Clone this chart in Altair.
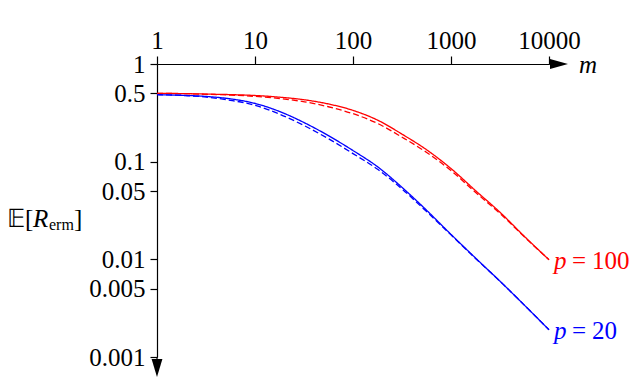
import altair as alt
import pandas as pd

m_vals = [1, 1.8, 3.2, 5.6, 10, 18, 32, 56, 100, 180, 320, 560, 1000, 1800, 3200, 5600, 10000]
red_solid = [0.50, 0.498, 0.492, 0.486, 0.476, 0.457, 0.43, 0.39, 0.335, 0.265, 0.19, 0.133,
             0.085, 0.05, 0.03, 0.0172, 0.0099]
red_dashed = [0.50, 0.497, 0.49, 0.481, 0.466, 0.443, 0.41, 0.365, 0.31, 0.245, 0.177, 0.125,
              0.081, 0.048, 0.0292, 0.017, 0.0099]
blue_solid = [0.485, 0.478, 0.465, 0.44, 0.395, 0.325, 0.25, 0.185, 0.13, 0.088, 0.054, 0.032,
              0.018, 0.0102, 0.0059, 0.0034, 0.0019]
blue_dashed = [0.485, 0.476, 0.458, 0.425, 0.378, 0.305, 0.233, 0.172, 0.121, 0.083, 0.052, 0.031,
               0.0178, 0.0101, 0.0059, 0.0034, 0.0019]

x_ticks = [1, 10, 100, 1000, 10000]
y_ticks = [1, 0.5, 0.1, 0.05, 0.01, 0.005, 0.001]
series_names = ["p100", "p20"]
series_numbers = ["100", "20"]
series_colors = ["#ff0000", "#0000ff"]

rows = []
for name, kind, vals in [("p100", "solid", red_solid), ("p100", "dashed", red_dashed),
                         ("p20", "solid", blue_solid), ("p20", "dashed", blue_dashed)]:
    for m, r in zip(m_vals, vals):
        rows.append({"m": m, "R": r, "series": name, "kind": kind, "line": name + kind})
df = pd.DataFrame(rows)

lab = pd.DataFrame({
    "m": [m_vals[-1], m_vals[-1]],
    "R": [red_solid[-1], blue_solid[-1]],
    "series": series_names,
    "num": series_numbers,
})

FONT = "Liberation Serif"
FS = 25

xs = alt.Scale(type="log", domain=[1, 10000])
ys = alt.Scale(type="log", domain=[0.001, 1])
col = alt.Scale(domain=series_names, range=series_colors)

lines = alt.Chart(df).mark_line(strokeWidth=1.3, interpolate="monotone").encode(
    x=alt.X("m:Q", scale=xs, axis=alt.Axis(
        orient="top", values=x_ticks, format="d", title=None, grid=False,
        domainColor="black", domainWidth=1.2, tickColor="black", tickWidth=1.2,
        tickSize=8, labelPadding=3, labelFont=FONT, labelFontSize=FS,
        labelColor="black", labelFlush=False)),
    y=alt.Y("R:Q", scale=ys, axis=alt.Axis(
        orient="left", values=y_ticks, format="~g", title=None, grid=False,
        domainColor="black", domainWidth=1.2, tickColor="black", tickWidth=1.2,
        tickSize=7, labelPadding=5, labelFont=FONT, labelFontSize=FS,
        labelColor="black", labelFlush=False)),
    color=alt.Color("series:N", scale=col, legend=None),
    strokeDash=alt.StrokeDash("kind:N", scale=alt.Scale(domain=["solid", "dashed"],
                                                         range=[[1, 0], [6, 3]]), legend=None),
    detail="line:N",
)

def end_text(dx, text, italic=False):
    kw = dict(align="left", baseline="middle", dx=dx, dy=1, font=FONT, fontSize=FS)
    if italic:
        kw["fontStyle"] = "italic"
    return alt.Chart(lab).mark_text(**kw).encode(
        x=alt.X("m:Q", scale=xs), y=alt.Y("R:Q", scale=ys),
        color=alt.Color("series:N", scale=col, legend=None), text=text)

p_text = end_text(5, alt.value("p"), italic=True)
eq_text = end_text(23, alt.value("="))
num_text = end_text(43, "num:N")

anchor = pd.DataFrame({"m": [10000], "R": [1.0], "Rb": [0.001]})

x_arrow = alt.Chart(anchor).mark_point(
    shape="M -1 -0.56 L 1 0 L -1 0.56 Z", size=324, filled=True,
    color="black", opacity=1, xOffset=10).encode(
    x=alt.X("m:Q", scale=xs), y=alt.Y("R:Q", scale=ys))

y_arrow = alt.Chart(anchor).mark_point(
    shape="M -0.6 -1 L 0 1 L 0.6 -1 Z", size=324, filled=True,
    color="black", opacity=1, yOffset=11).encode(
    x=alt.value(0), y=alt.Y("Rb:Q", scale=ys))

x_shaft = alt.Chart(anchor).mark_rule(color="black", strokeWidth=1.2).encode(
    x=alt.value(392), x2=alt.value(402), y=alt.Y("R:Q", scale=ys))

y_shaft = alt.Chart(anchor).mark_rule(color="black", strokeWidth=1.2).encode(
    x=alt.value(0), y=alt.value(293), y2=alt.value(303))

m_text = alt.Chart(anchor).mark_text(align="left", baseline="middle", dx=30, dy=1,
                                     font=FONT, fontSize=FS, fontStyle="italic",
                                     color="black").encode(
    x=alt.X("m:Q", scale=xs), y=alt.Y("R:Q", scale=ys), text=alt.value("m"))

def title_part(x, y, s, size=FS, italic=False):
    kw = dict(align="left", baseline="middle", font=FONT, fontSize=size, color="black")
    if italic:
        kw["fontStyle"] = "italic"
    return alt.Chart(anchor).mark_text(**kw).encode(
        x=alt.value(x), y=alt.value(y), text=alt.value(s))

t1 = title_part(-150, 155, "𝔼[")
t2 = title_part(-124, 155, "R", italic=True)
t3 = title_part(-108, 161, "erm", size=16)
t4 = title_part(-83, 155, "]")

chart = alt.layer(lines, p_text, eq_text, num_text, x_shaft, y_shaft, x_arrow, y_arrow,
                  m_text, t1, t2, t3, t4).properties(
    width=392, height=293, autosize="none", background="white",
    padding={"left": 149, "top": 56, "right": 83, "bottom": 21},
).configure(font=FONT).configure_view(stroke=None).configure_axis(
    labelFont=FONT).configure_text(font=FONT)

chart.save("out.html", embed_options={"renderer": "svg", "actions": False})
